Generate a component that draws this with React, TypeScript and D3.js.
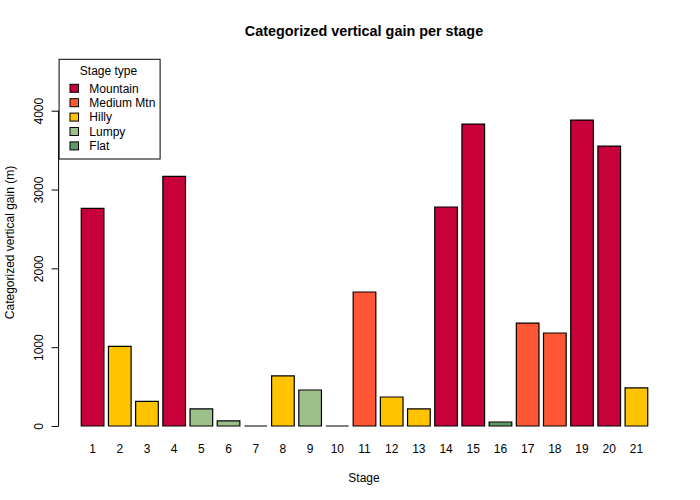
import React, { useEffect, useRef } from "react";
import * as d3 from "d3";

// stage numbers, vertical gain and stage type
const stages = [
  "1", "2", "3", "4", "5", "6", "7", "8", "9", "10", "11",
  "12", "13", "14", "15", "16", "17", "18", "19", "20", "21",
];
const gains = [
  2762, 1011, 313, 3168, 216, 64, 0, 635, 457, 0, 1700,
  368, 216, 2778, 3830, 51, 1306, 1180, 3881, 3551, 483,
];
const stageTypes = [
  "Mountain", "Hilly", "Hilly", "Mountain", "Lumpy", "Lumpy", "Flat",
  "Hilly", "Lumpy", "Flat", "Medium Mtn", "Hilly", "Hilly", "Mountain",
  "Mountain", "Flat", "Medium Mtn", "Medium Mtn", "Mountain", "Mountain", "Hilly",
];
const typeNames = ["Mountain", "Medium Mtn", "Hilly", "Lumpy", "Flat"];
const typeColors = ["#C70039", "#FF5733", "#FFC300", "#9DC08B", "#609966"];
const yTicks = [0, 1000, 2000, 3000, 4000];

const App = () => {
  const svgRef = useRef<SVGSVGElement>(null);

  useEffect(() => {
    const width = 700;
    const height = 500;
    const font = "'Liberation Sans', Arial, Helvetica, sans-serif";

    const svg = d3.select(svgRef.current);
    svg.selectAll("*").remove();
    svg.attr("width", width).attr("height", height);

    // plot region (R style)
    const left = 58.6;
    const right = 670.4;
    const top = 59.3;

    const x = d3
      .scaleBand<string>()
      .domain(stages)
      .range([left, right])
      .paddingInner(1 / 6)
      .paddingOuter(5 / 6);

    const y = d3.scaleLinear().domain([0, 4000]).range([426, 110.7]);

    const color = d3.scaleOrdinal<string, string>().domain(typeNames).range(typeColors);

    // bars as paths so zero-height bars still show their outline
    svg
      .append("g")
      .selectAll("path")
      .data(stages)
      .enter()
      .append("path")
      .attr("d", (s, i) => {
        const p = d3.path();
        const x0 = x(s)!;
        const y0 = y(0);
        const y1 = y(gains[i]);
        p.moveTo(x0, y0);
        p.lineTo(x0 + x.bandwidth(), y0);
        p.lineTo(x0 + x.bandwidth(), y1);
        p.lineTo(x0, y1);
        p.closePath();
        return p.toString();
      })
      .attr("fill", (s, i) => color(stageTypes[i]))
      .attr("stroke", "#000")
      .attr("stroke-width", 1.2);

    // stage labels below the bars
    svg
      .append("g")
      .selectAll("text")
      .data(stages)
      .enter()
      .append("text")
      .attr("x", (s) => x(s)! + x.bandwidth() / 2)
      .attr("y", 453)
      .attr("text-anchor", "middle")
      .style("font-family", font)
      .style("font-size", "12px")
      .text((s) => s);

    // y axis, labels turned like R's default las = 0
    const yAxis = svg
      .append("g")
      .attr("transform", `translate(${left}, 0)`)
      .call(d3.axisLeft(y).tickValues(yTicks).tickSize(7).tickFormat(d3.format("d")));
    yAxis.select(".domain").attr("d", `M0,${y(0)}V${y(4000)}`).attr("stroke", "#000");
    yAxis.selectAll("line").attr("stroke", "#000");
    yAxis
      .selectAll("text")
      .attr("transform", "rotate(-90)")
      .attr("x", 0)
      .attr("y", -15.5)
      .attr("dy", null)
      .attr("text-anchor", "middle")
      .style("font-family", font)
      .style("font-size", "12px")
      .style("fill", "#000");

    // title and axis titles
    svg
      .append("text")
      .attr("x", 364)
      .attr("y", 36)
      .attr("text-anchor", "middle")
      .style("font-family", font)
      .style("font-size", "14.4px")
      .style("font-weight", "bold")
      .text("Categorized vertical gain per stage");

    svg
      .append("text")
      .attr("x", 364)
      .attr("y", 482)
      .attr("text-anchor", "middle")
      .style("font-family", font)
      .style("font-size", "12px")
      .text("Stage");

    svg
      .append("text")
      .attr("transform", `translate(13.5, 242.5) rotate(-90)`)
      .attr("text-anchor", "middle")
      .style("font-family", font)
      .style("font-size", "12px")
      .text("Categorized vertical gain (m)");

    // legend in the top-left corner of the plot region
    const legend = svg.append("g");
    legend
      .append("rect")
      .attr("x", left + 0.5)
      .attr("y", top)
      .attr("width", 101)
      .attr("height", 99.7)
      .attr("fill", "#fff")
      .attr("stroke", "#000")
      .attr("stroke-width", 1);

    legend
      .append("text")
      .attr("x", 108.5)
      .attr("y", 74.5)
      .attr("text-anchor", "middle")
      .style("font-family", font)
      .style("font-size", "12px")
      .text("Stage type");

    const items = legend
      .selectAll("g.item")
      .data(typeNames)
      .enter()
      .append("g")
      .attr("class", "item")
      .attr("transform", (d, i) => `translate(0, ${88.3 + i * 14.4})`);

    items
      .append("rect")
      .attr("x", 70)
      .attr("y", -4)
      .attr("width", 8.5)
      .attr("height", 8)
      .attr("fill", (d) => color(d))
      .attr("stroke", "#000")
      .attr("stroke-width", 1);

    items
      .append("text")
      .attr("x", 89.3)
      .attr("y", 4.3)
      .style("font-family", font)
      .style("font-size", "12px")
      .text((d) => d);
  }, []);

  return (
    <div>
      <svg ref={svgRef} style={{ position: "absolute", left: 0, top: 0, background: "#fff" }}></svg>
    </div>
  );
};

export default App;
